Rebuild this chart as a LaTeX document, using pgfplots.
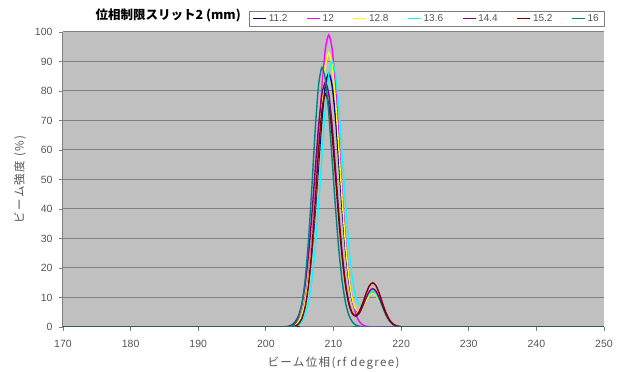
\documentclass[border=0pt]{standalone}
\usepackage{fontspec}
\setmainfont{Liberation Sans}
\newfontfamily\jp{Noto Sans CJK JP}
\newfontfamily\jpl[LetterSpace=12]{Noto Sans CJK JP}
\usepackage{pgfplots}
\pgfplotsset{compat=1.18}
\definecolor{plotbg}{HTML}{C0C0C0}
\definecolor{gridc}{HTML}{808080}
\definecolor{txt}{HTML}{555555}
\definecolor{sA}{HTML}{000080}
\definecolor{sB}{HTML}{FF00FF}
\definecolor{sC}{HTML}{FFFF00}
\definecolor{sD}{HTML}{00FFFF}
\definecolor{sE}{HTML}{800080}
\definecolor{sF}{HTML}{800000}
\definecolor{sG}{HTML}{008080}
\begin{document}
\begin{tikzpicture}[x=1pt,y=1pt]
\path[use as bounding box] (-63,-45) rectangle (556,327);
\begin{axis}[
  at={(0,0)}, anchor=south west,
  width=541pt, height=295pt, scale only axis,
  xmin=170, xmax=250, ymin=0, ymax=100,
  xtick={170,180,...,250}, ytick={0,10,...,100},
  axis background/.style={fill=plotbg},
  axis lines=left,
  axis line style={draw=gridc, line width=1pt, -},
  ymajorgrids, grid style={draw=gridc, line width=1pt},
  tick align=outside, major tick length=4pt,
  tick style={draw=gridc, line width=0.8pt},
  /pgf/number format/assume math mode=true,
  ticklabel style={font=\fontsize{10.5}{12}\selectfont, text=txt},
  yticklabel style={xshift=-3pt},
  xticklabel style={yshift=-6pt},
  xlabel={\jpl ビーム位相(rf degree)},
  ylabel={\jpl ビーム強度 (\%)},
  label style={font=\fontsize{11.5}{13}\selectfont, text=txt},
  xlabel style={at={(axis description cs:0.5,-0.122)}, anchor=center},
  ylabel style={at={(axis description cs:-0.0795,0.5)}, anchor=center},
  legend columns=7,
  legend style={at={(1,1)}, anchor=south east, yshift=6pt, draw=gridc, fill=white,
    font=\fontsize{10}{11}\selectfont, text=txt, inner ysep=1.2pt, inner xsep=3pt,
    /tikz/every even column/.append style={column sep=17pt}},
  legend image code/.code={\draw[#1, line width=1.2pt] (0pt,0pt) -- (13pt,0pt);},
  every axis plot/.append style={line width=1.4pt, smooth, tension=0.4, mark=none},
  clip=true,
]
\addplot[sA] coordinates {(170,0) (202.3,0) (202.8,0.03) (203.3,0.08) (203.8,0.23) (204.3,0.65) (204.8,1.65) (205.3,3.78) (205.8,7.86) (206.3,14.79) (206.8,25.37) (207.3,39.39) (207.8,55.38) (208.3,70.78) (208.8,81.87) (209.3,86) (209.8,81.87) (210.3,70.78) (210.8,55.38) (211.3,39.39) (211.8,25.48) (212.3,15.11) (212.8,8.70) (213.3,5.66) (213.8,5.32) (214.3,6.82) (214.8,9.16) (215.3,11.23) (215.8,12.0) (216.3,11.15) (216.8,8.93) (217.3,6.17) (217.8,3.67) (218.3,1.88) (218.8,0.84) (219.3,0.32) (219.8,0.11) (220.3,0.03) (221.3,0) (250,0)};
\addplot[sB] coordinates {(170,0) (202.3,0) (203.3,0.09) (203.8,0.27) (204.3,0.75) (204.8,1.90) (205.3,4.35) (205.8,9.05) (206.3,17.03) (206.8,29.21) (207.3,45.34) (207.8,63.76) (208.3,81.48) (208.8,94.25) (209.3,99) (209.8,94.25) (210.3,81.48) (210.8,63.76) (211.3,45.34) (211.8,29.21) (212.3,17.03) (212.8,9.05) (213.3,4.35) (213.8,1.90) (214.3,0.75) (214.8,0.27) (215.3,0.09) (215.8,0) (250,0)};
\addplot[sC] coordinates {(170,0) (202.3,0) (203.3,0.08) (203.8,0.25) (204.3,0.71) (204.8,1.79) (205.3,4.08) (205.8,8.50) (206.3,16.00) (206.8,27.44) (207.3,42.59) (207.8,59.89) (208.3,76.54) (208.8,88.54) (209.3,93) (209.8,88.54) (210.3,76.54) (210.8,59.89) (211.3,42.59) (211.8,27.54) (212.3,16.31) (212.8,9.31) (213.3,5.89) (213.8,5.31) (214.3,6.62) (214.8,8.81) (215.3,10.76) (215.8,11.5) (216.3,10.68) (216.8,8.56) (217.3,5.91) (217.8,3.52) (218.3,1.81) (218.8,0.81) (219.3,0.31) (219.8,0.10) (220.3,0.03) (221.3,0) (250,0)};
\addplot[sD] coordinates {(170,0) (203.3,0) (203.8,0.08) (204.3,0.24) (204.8,0.68) (205.3,1.73) (205.8,3.95) (206.3,8.23) (206.8,15.48) (207.3,26.55) (207.8,41.22) (208.3,57.96) (208.8,74.07) (209.3,85.68) (209.8,90) (210.3,85.68) (210.8,74.07) (211.3,57.96) (211.8,41.33) (212.3,26.87) (212.8,16.32) (213.3,10.11) (213.8,7.62) (214.3,7.90) (214.8,9.61) (215.3,11.39) (215.8,12.08) (216.3,11.15) (216.8,8.93) (217.3,6.17) (217.8,3.67) (218.3,1.88) (218.8,0.84) (219.3,0.32) (219.8,0.11) (220.3,0.03) (221.3,0) (250,0)};
\addplot[sE] coordinates {(170,0) (202.3,0) (202.8,0.07) (203.3,0.22) (203.8,0.63) (204.3,1.59) (204.8,3.64) (205.3,7.59) (205.8,14.28) (206.3,24.49) (206.8,38.01) (207.3,53.45) (207.8,68.31) (208.3,79.02) (208.8,83) (209.3,79.02) (209.8,68.31) (210.3,53.45) (210.8,38.01) (211.3,24.49) (211.8,14.40) (212.3,7.94) (212.8,4.55) (213.3,3.63) (213.8,4.61) (214.3,6.90) (214.8,9.74) (215.3,12.08) (215.8,13) (216.3,12.08) (216.8,9.67) (217.3,6.68) (217.8,3.98) (218.3,2.04) (218.8,0.91) (219.3,0.35) (219.8,0.12) (220.3,0.03) (221.3,0) (250,0)};
\addplot[sF] coordinates {(170,0) (203.3,0) (203.8,0.08) (204.3,0.31) (204.8,0.98) (205.3,2.74) (205.8,6.69) (206.3,14.22) (206.8,26.39) (207.3,42.58) (207.8,60.04) (208.3,73.79) (208.8,79) (209.3,75.21) (209.8,65.02) (210.3,50.88) (210.8,36.18) (211.3,23.31) (211.8,13.72) (212.3,7.63) (212.8,4.52) (213.3,3.88) (213.8,5.19) (214.3,7.92) (214.8,11.23) (215.3,13.94) (215.8,15) (216.3,13.94) (216.8,11.16) (217.3,7.71) (217.8,4.59) (218.3,2.36) (218.8,1.05) (219.3,0.41) (219.8,0.13) (220.3,0.04) (221.3,0) (250,0)};
\addplot[sG] coordinates {(170,0) (202.8,0) (203.3,0.09) (203.8,0.34) (204.3,1.09) (204.8,3.05) (205.3,7.45) (205.8,15.84) (206.3,29.39) (206.8,47.43) (207.3,66.88) (207.8,82.19) (208.3,88) (208.8,83.78) (209.3,72.42) (209.8,56.67) (210.3,40.30) (210.8,25.96) (211.3,15.14) (211.8,8.04) (212.3,3.86) (212.8,1.69) (213.3,0.67) (213.8,0.24) (214.3,0.08) (214.8,0) (250,0)};
\legend{11.2,12,12.8,13.6,14.4,15.2,16}
\end{axis}
\node[anchor=east, inner sep=1pt, font=\jp\bfseries\fontsize{12.5}{14}\selectfont] at (179,312) {位相制限スリット2 (mm)};
\end{tikzpicture}
\end{document}
